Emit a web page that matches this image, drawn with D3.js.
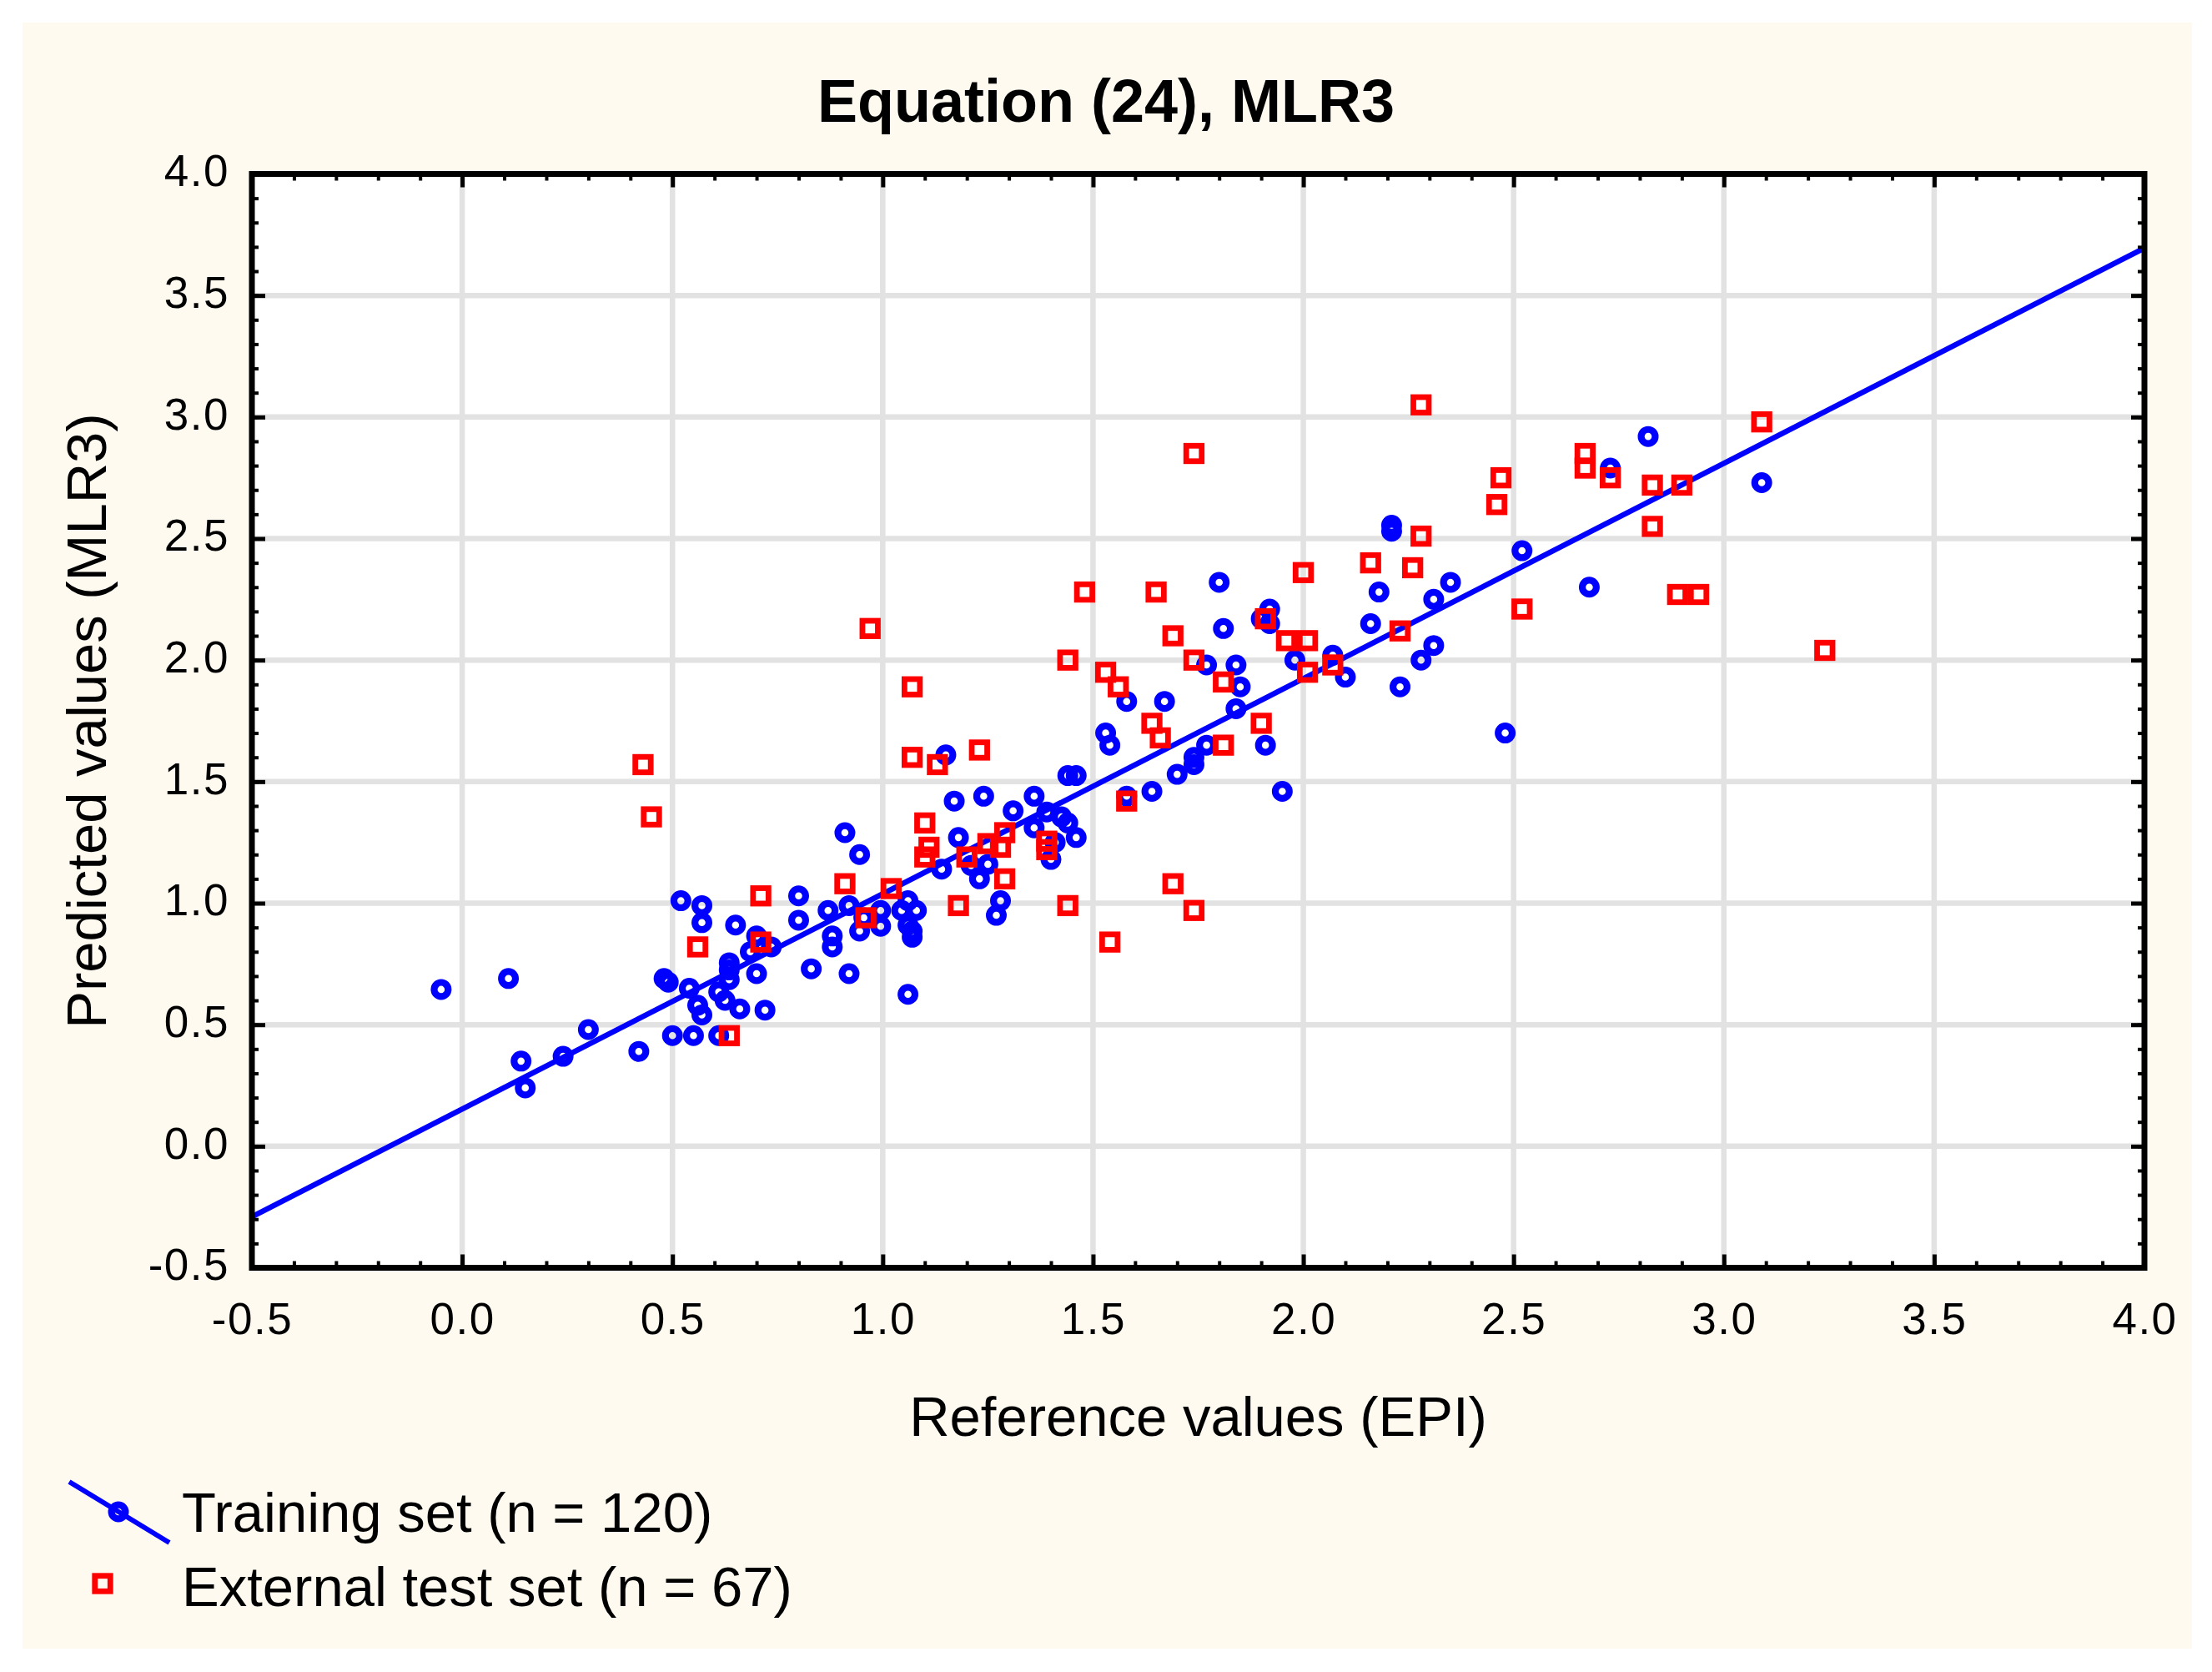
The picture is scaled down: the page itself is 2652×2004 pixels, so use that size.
<!DOCTYPE html>
<html>
<head>
<meta charset="utf-8">
<script src="https://cdn.jsdelivr.net/npm/d3@7/dist/d3.min.js"></script>
<style>
  body { margin: 0; background: #ffffff; }
  text { font-family: "Liberation Sans", Arial, sans-serif; fill: #000; }
</style>
</head>
<body>
<svg id="chart" width="2652" height="2004"></svg>
<script>
// Training set (blue circles)
const trainX = [-0.05, 0.11, 0.14, 0.15, 0.24, 0.30, 0.42, 0.50, 0.55, 0.61,
  0.52, 0.57, 0.57, 0.65, 0.48, 0.49, 0.54, 0.56, 0.57, 0.635,
  0.635, 0.635, 0.61, 0.625, 0.66, 0.70, 0.72, 0.685, 0.70, 0.735,
  0.80, 0.80, 0.83, 0.91, 0.945, 0.87, 0.92, 0.88, 0.88, 0.92,
  0.945, 0.995, 0.995, 1.06, 1.045, 1.08, 1.06, 1.07, 1.07, 1.06,
  1.14, 1.18, 1.17, 1.15, 1.21, 1.25, 1.23, 1.24, 1.36, 1.31,
  1.39, 1.425, 1.44, 1.36, 1.46, 1.40, 1.41, 1.28, 1.27, 1.44,
  1.46, 1.54, 1.53, 1.58, 1.67, 1.58, 1.64, 1.70, 1.74, 1.74,
  1.77, 1.91, 1.95, 1.77, 1.84, 1.85, 1.84, 1.81, 1.80, 1.92,
  1.90, 1.92, 1.98, 2.07, 2.10, 2.16, 2.18, 2.21, 2.21, 2.35,
  2.31, 2.31, 2.28, 2.23, 2.48, 2.52, 2.68, 2.73, 2.82, 3.09,
  0.955];
const trainY = [0.645, 0.69, 0.35, 0.24, 0.37, 0.48, 0.39, 0.455, 0.455, 0.455,
  1.01, 0.99, 0.92, 0.91, 0.69, 0.675, 0.65, 0.58, 0.54, 0.755,
  0.725, 0.685, 0.635, 0.60, 0.565, 0.71, 0.56, 0.80, 0.865, 0.82,
  1.03, 0.93, 0.73, 1.29, 1.20, 0.97, 0.99, 0.865, 0.82, 0.71,
  0.885, 0.97, 0.905, 1.01, 0.97, 0.97, 0.91, 0.885, 0.86, 0.625,
  1.14, 1.27, 1.42, 1.61, 1.155, 1.16, 1.10, 1.44, 1.44, 1.38,
  1.375, 1.355, 1.33, 1.31, 1.27, 1.18, 1.25, 1.01, 0.95, 1.525,
  1.525, 1.65, 1.70, 1.83, 1.83, 1.44, 1.46, 1.53, 1.60, 1.57,
  1.65, 1.65, 1.46, 1.98, 1.98, 1.89, 1.80, 2.13, 2.32, 2.21,
  2.17, 2.15, 2.00, 2.02, 1.93, 2.15, 2.28, 2.555, 2.53, 2.32,
  2.25, 2.06, 2.00, 1.89, 1.70, 2.45, 2.30, 2.79, 2.92, 2.73,
  0.94];

// External test set (red squares)
const testX = [0.43, 0.45, 0.56, 0.71, 0.71, 0.635, 0.91, 1.02, 0.96, 1.18,
  1.10, 1.11, 1.10, 1.20, 0.97, 1.07, 1.07, 1.13, 1.23, 1.29,
  1.28, 1.25, 1.39, 1.39, 1.29, 1.44, 1.58, 1.69, 1.74, 1.54,
  1.48, 1.65, 1.44, 1.53, 1.56, 1.69, 1.74, 1.64, 1.66, 1.81,
  1.81, 1.90, 1.74, 2.00, 1.91, 1.96, 2.01, 2.01, 2.07, 2.16,
  2.26, 2.28, 2.23, 2.28, 2.47, 2.46, 2.52, 2.67, 2.67, 2.73,
  2.83, 2.90, 2.83, 2.89, 2.94, 3.09, 3.24];
const testY = [1.57, 1.355, 0.82, 1.03, 0.84, 0.455, 1.08, 1.06, 0.94, 0.99,
  1.33, 1.23, 1.19, 1.19, 2.13, 1.89, 1.60, 1.57, 1.63, 1.29,
  1.23, 1.245, 1.255, 1.22, 1.10, 0.99, 1.42, 1.08, 0.97, 0.84,
  2.28, 2.28, 2.00, 1.95, 1.89, 2.10, 2.00, 1.74, 1.68, 1.91,
  1.65, 1.74, 2.85, 2.36, 2.17, 2.08, 2.08, 1.95, 1.98, 2.40,
  2.38, 2.51, 2.12, 3.05, 2.75, 2.64, 2.21, 2.85, 2.79, 2.75,
  2.72, 2.72, 2.55, 2.27, 2.27, 2.98, 2.04];

// fitted line end points
const fitX = [-0.5, 4.0];
const fitY = [-0.29, 3.695];

const xTicks = [-0.5, 0.0, 0.5, 1.0, 1.5, 2.0, 2.5, 3.0, 3.5, 4.0];
const xTickLabels = ['-0.5', '0.0', '0.5', '1.0', '1.5', '2.0', '2.5', '3.0', '3.5', '4.0'];
const yTicks = [-0.5, 0.0, 0.5, 1.0, 1.5, 2.0, 2.5, 3.0, 3.5, 4.0];
const yTickLabels = ['-0.5', '0.0', '0.5', '1.0', '1.5', '2.0', '2.5', '3.0', '3.5', '4.0'];
const minorTicks = d3.range(-5, 41).map(i => i / 10);

const titleText = 'Equation (24), MLR3';
const xTitle = 'Reference values (EPI)';
const yTitle = 'Predicted values (MLR3)';
const legendLabels = ['Training set (n = 120)', 'External test set (n = 67)'];

const blue = '#0000ff';
const red = '#ff0000';
const gridColor = '#e2e2e2';

const W = 2652, H = 2004;
let margin = { top: 208.5, left: 302 },
  innerW = 2269,
  innerH = 1311;

const svg = d3.select('#chart');

svg.append('rect')
  .attr('x', 27).attr('y', 27)
  .attr('width', 2601).attr('height', 1949)
  .attr('fill', '#fffaf0');

const x_scale = d3.scaleLinear().domain([-0.5, 4.0]).range([0, innerW]);
const y_scale = d3.scaleLinear().domain([-0.5, 4.0]).range([innerH, 0]);

const g = svg.append('g')
  .attr('transform', `translate(${margin.left}, ${margin.top})`);

g.append('rect')
  .attr('width', innerW).attr('height', innerH)
  .attr('fill', '#ffffff');

// grid
g.selectAll('.vgrid').data(xTicks.slice(1, -1)).join('line')
  .attr('class', 'vgrid')
  .attr('x1', d => x_scale(d)).attr('x2', d => x_scale(d))
  .attr('y1', 0).attr('y2', innerH)
  .attr('stroke', gridColor).attr('stroke-width', 6.5);

g.selectAll('.hgrid').data(yTicks.slice(1, -1)).join('line')
  .attr('class', 'hgrid')
  .attr('y1', d => y_scale(d)).attr('y2', d => y_scale(d))
  .attr('x1', 0).attr('x2', innerW)
  .attr('stroke', gridColor).attr('stroke-width', 6.5);

// fitted line (clip to plot)
svg.append('clipPath').attr('id', 'plotclip')
  .append('rect').attr('width', innerW).attr('height', innerH);

const plotArea = g.append('g').attr('clip-path', 'url(#plotclip)');

plotArea.append('path')
  .datum(fitX.map((d, i) => [d, fitY[i]]))
  .attr('d', d3.line().x(d => x_scale(d[0])).y(d => y_scale(d[1])))
  .attr('fill', 'none')
  .attr('stroke', blue)
  .attr('stroke-width', 6.5);

// training circles
plotArea.selectAll('.train').data(trainX.map((d, i) => [d, trainY[i]])).join('circle')
  .attr('class', 'train')
  .attr('cx', d => x_scale(d[0]))
  .attr('cy', d => y_scale(d[1]))
  .attr('r', 8.4)
  .attr('fill', 'none')
  .attr('stroke', blue)
  .attr('stroke-width', 8.2);

// test squares
const sq = 18.5;
plotArea.selectAll('.test').data(testX.map((d, i) => [d, testY[i]])).join('rect')
  .attr('class', 'test')
  .attr('x', d => x_scale(d[0]) - sq / 2)
  .attr('y', d => y_scale(d[1]) - sq / 2)
  .attr('width', sq).attr('height', sq)
  .attr('fill', 'none')
  .attr('stroke', red)
  .attr('stroke-width', 6.8);

// axes (ticks point inside)
const fmtX = d => xTickLabels[xTicks.indexOf(d)];
const fmtY = d => yTickLabels[yTicks.indexOf(d)];

function styleAxis(sel, w) {
  sel.select('.domain').remove();
  sel.selectAll('line').attr('stroke', '#000').attr('stroke-width', w);
}

g.append('g').attr('transform', `translate(0, ${innerH})`)
  .call(d3.axisBottom(x_scale).tickValues(minorTicks).tickSize(-8).tickFormat(''))
  .call(s => styleAxis(s, 4));
g.append('g')
  .call(d3.axisTop(x_scale).tickValues(minorTicks).tickSize(-8).tickFormat(''))
  .call(s => styleAxis(s, 4));
g.append('g')
  .call(d3.axisLeft(y_scale).tickValues(minorTicks).tickSize(-8).tickFormat(''))
  .call(s => styleAxis(s, 4));
g.append('g').attr('transform', `translate(${innerW}, 0)`)
  .call(d3.axisRight(y_scale).tickValues(minorTicks).tickSize(-8).tickFormat(''))
  .call(s => styleAxis(s, 4));

const xAxis = g.append('g').attr('class', 'x_axis')
  .attr('transform', `translate(0, ${innerH})`)
  .call(d3.axisBottom(x_scale).tickValues(xTicks).tickSize(-16).tickPadding(42).tickFormat(fmtX))
  .call(s => styleAxis(s, 5));
xAxis.selectAll('text')
  .attr('font-size', 53)
  .attr('letter-spacing', 1.5)
  .attr('font-family', '"Liberation Sans", Arial, sans-serif')
  .attr('fill', '#000');

g.append('g')
  .call(d3.axisTop(x_scale).tickValues(xTicks).tickSize(-16).tickFormat(''))
  .call(s => styleAxis(s, 5));

const yAxis = g.append('g').attr('class', 'y_axis')
  .call(d3.axisLeft(y_scale).tickValues(yTicks).tickSize(-16).tickPadding(27).tickFormat(fmtY))
  .call(s => styleAxis(s, 5));
yAxis.selectAll('text')
  .attr('font-size', 53)
  .attr('letter-spacing', 1.5)
  .attr('dy', '0.27em')
  .attr('font-family', '"Liberation Sans", Arial, sans-serif')
  .attr('fill', '#000');

g.append('g').attr('transform', `translate(${innerW}, 0)`)
  .call(d3.axisRight(y_scale).tickValues(yTicks).tickSize(-16).tickFormat(''))
  .call(s => styleAxis(s, 5));

// frame
g.append('rect')
  .attr('width', innerW).attr('height', innerH)
  .attr('fill', 'none')
  .attr('stroke', '#000')
  .attr('stroke-width', 7);

// titles
svg.append('text')
  .attr('x', 1326).attr('y', 146)
  .attr('text-anchor', 'middle')
  .attr('font-size', 72)
  .attr('font-weight', 'bold')
  .text(titleText);

svg.append('text')
  .attr('x', margin.left + innerW / 2).attr('y', 1721)
  .attr('text-anchor', 'middle')
  .attr('font-size', 67)
  .text(xTitle);

svg.append('text')
  .attr('transform', `translate(127, ${margin.top + innerH / 2}) rotate(-90)`)
  .attr('text-anchor', 'middle')
  .attr('font-size', 67)
  .text(yTitle);

// legend
const legend = svg.append('g');
legend.append('line')
  .attr('x1', 83).attr('y1', 1776).attr('x2', 203).attr('y2', 1849)
  .attr('stroke', blue).attr('stroke-width', 6);
legend.append('circle')
  .attr('cx', 142).attr('cy', 1812).attr('r', 8.4)
  .attr('fill', 'none').attr('stroke', blue).attr('stroke-width', 8.2);
legend.append('rect')
  .attr('x', 123 - sq / 2).attr('y', 1898 - sq / 2)
  .attr('width', sq).attr('height', sq)
  .attr('fill', 'none').attr('stroke', red).attr('stroke-width', 6.8);

legend.selectAll('.leg_text').data(legendLabels).join('text')
  .attr('class', 'leg_text')
  .attr('x', 218)
  .attr('y', (d, i) => i === 0 ? 1836 : 1925)
  .attr('font-size', 67)
  .text(d => d);
</script>
</body>
</html>
